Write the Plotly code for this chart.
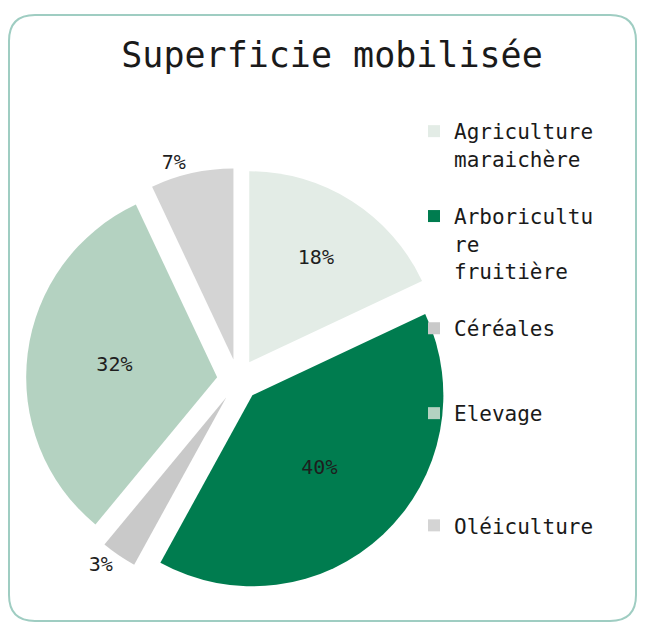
import plotly.graph_objects as go

# page has an 8px body margin: figure sized so the page fits the 645x630 window
W, H = 629, 614
OFF = 8

categories = ["Agriculture maraichère", "Arboriculture fruitière", "Céréales", "Elevage", "Oléiculture"]
legend_labels = [
    "Agriculture<br>maraichère<br> ",
    "Arboricultu<br>re<br>fruitière<br> ",
    "Céréales<br> <br> ",
    "Elevage<br> <br> <br> ",
    "Oléiculture",
]
values = [18, 40, 3, 32, 7]
colors = ["#e3ece6", "#007c4f", "#c9c9c9", "#b4d2c1", "#d4d4d4"]
text_pos = ["inside", "inside", "outside", "inside", "outside"]
pulls = [0.11, 0.11, 0.11, 0.11, 0.11]

def px(x):
    return (x - OFF) / W

def py(y):
    return 1 - (y - OFF) / H

fig = go.Figure()
fig.add_trace(go.Pie(
    labels=legend_labels,
    values=values,
    sort=False,
    direction="clockwise",
    rotation=0,
    pull=pulls,
    marker=dict(colors=colors, line=dict(width=0)),
    textinfo="percent",
    texttemplate="%{percent:.0%}",
    textposition=text_pos,
    insidetextorientation="horizontal",
    textfont=dict(family="DejaVu Sans Mono", size=20, color="#1e1e1e"),
    domain=dict(x=[px(26), px(450)], y=[py(594), py(166)]),
    hovertext=categories,
    hoverinfo="text+percent",
))

# rounded border
x0, x1, y0, y1, r = 9, 636, 15, 621, 26
path = (
    f"M {px(x0 + r)},{py(y0)} L {px(x1 - r)},{py(y0)} "
    f"Q {px(x1)},{py(y0)} {px(x1)},{py(y0 + r)} "
    f"L {px(x1)},{py(y1 - r)} Q {px(x1)},{py(y1)} {px(x1 - r)},{py(y1)} "
    f"L {px(x0 + r)},{py(y1)} Q {px(x0)},{py(y1)} {px(x0)},{py(y1 - r)} "
    f"L {px(x0)},{py(y0 + r)} Q {px(x0)},{py(y0)} {px(x0 + r)},{py(y0)} Z"
)

fig.update_layout(
    width=W, height=H,
    margin=dict(l=0, r=0, t=0, b=0, autoexpand=False),
    paper_bgcolor="white",
    plot_bgcolor="white",
    title=dict(
        text="Superficie mobilisée",
        x=px(332), xanchor="center",
        y=py(55), yanchor="middle",
        font=dict(family="DejaVu Sans Mono", size=35, color="#1a1a1a"),
    ),
    legend=dict(
        x=px(414), xanchor="left",
        y=py(111), yanchor="top",
        valign="top",
        font=dict(family="DejaVu Sans Mono", size=21, color="#1a1a1a"),
        bgcolor="rgba(0,0,0,0)",
        tracegroupgap=0,
    ),
    shapes=[dict(
        type="path", xref="paper", yref="paper", path=path,
        line=dict(color="#9fcdc2", width=2), fillcolor="rgba(0,0,0,0)",
        layer="below",
    )],
)

fig.write_html("out.html")
